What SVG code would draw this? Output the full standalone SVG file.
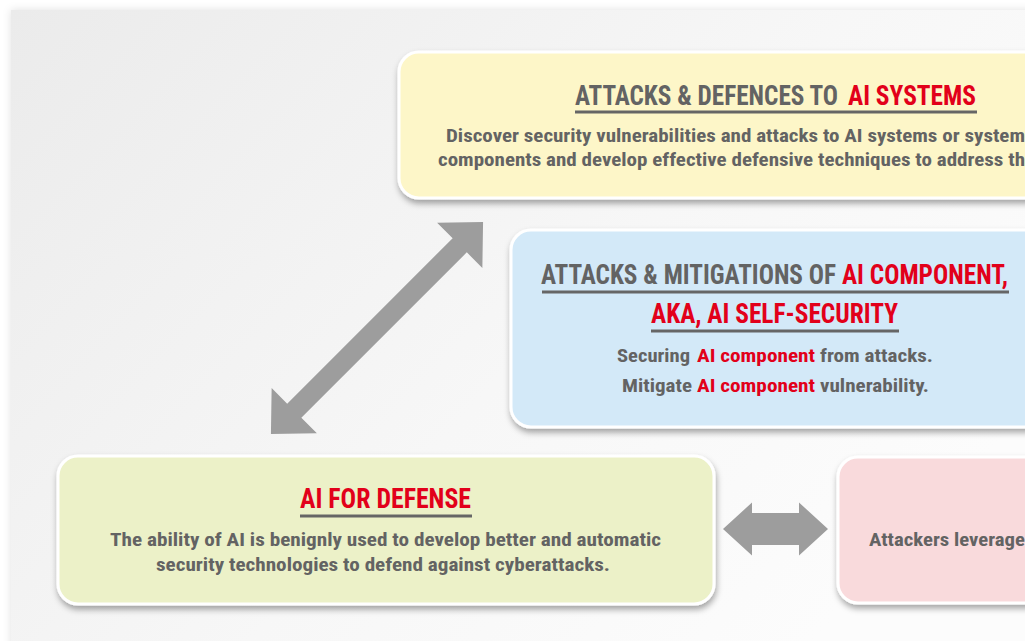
<svg xmlns="http://www.w3.org/2000/svg" width="1025" height="641" viewBox="0 0 1025 641">
<defs>
<linearGradient id="bg" x1="0" y1="0" x2="1" y2="0.6">
<stop offset="0" stop-color="#ebebeb"/>
<stop offset="0.6" stop-color="#f7f7f7"/>
<stop offset="1" stop-color="#fcfcfc"/>
</linearGradient>
<filter id="panelShadow" x="-5%" y="-5%" width="110%" height="110%">
<feDropShadow dx="0" dy="0" stdDeviation="4" flood-color="#000" flood-opacity="0.12"/>
</filter>
<filter id="boxShadow" x="-5%" y="-10%" width="110%" height="125%">
<feDropShadow dx="1" dy="4" stdDeviation="3" flood-color="#000" flood-opacity="0.35"/>
</filter>
</defs>
<style>
.box{stroke:#ffffff;stroke-width:3;filter:url(#boxShadow);}
.t{font-family:"Liberation Sans Narrow","Roboto Condensed","DejaVu Sans Condensed","Liberation Sans",sans-serif;font-weight:bold;fill:#636363;}
.title{font-size:27px;}
.body{font-size:19px;}
.red{fill:#e2001a;}
.ul{stroke:#666666;stroke-width:3;}
.arrow{fill:#9d9d9d;}
</style>
<rect x="0" y="0" width="1025" height="641" fill="#ffffff"/>
<rect x="11" y="10" width="1030" height="650" fill="url(#bg)" filter="url(#panelShadow)"/>

<g id="connectors">
<polygon class="arrow" transform="translate(377,328) rotate(-45)" points="-150,0 -117,-32 -117,-10 117,-10 117,-32 150,0 117,32 117,10 -117,10 -117,32"/>
<polygon class="arrow" points="723,529 752,502.5 752,513 799,513 799,502.5 828,529 799,555.5 799,545 752,545 752,555.5"/>
</g>

<g id="node-attacks-defences">
<rect class="box" x="399" y="52" width="660" height="146" rx="20" fill="#fdf6c8"/>
<text class="t title" x="575" y="105" textLength="263" lengthAdjust="spacingAndGlyphs">ATTACKS &amp; DEFENCES TO</text>
<text class="t title red" x="848" y="105" textLength="128" lengthAdjust="spacingAndGlyphs">AI SYSTEMS</text>
<line class="ul" x1="575" y1="112" x2="977" y2="112"/>
<text class="t body" x="446" y="142" textLength="579" lengthAdjust="spacingAndGlyphs">Discover security vulnerabilities and attacks to AI systems or system</text>
<text class="t body" x="438" y="166" textLength="587" lengthAdjust="spacingAndGlyphs">components and develop effective defensive techniques to address th</text>
</g>

<g id="node-ai-self-security">
<rect class="box" x="511" y="230" width="560" height="197" rx="20" fill="#d3e9f8"/>
<text class="t title" x="541" y="284" textLength="295" lengthAdjust="spacingAndGlyphs">ATTACKS &amp; MITIGATIONS OF</text>
<text class="t title red" x="842" y="284" textLength="166" lengthAdjust="spacingAndGlyphs">AI COMPONENT,</text>
<line class="ul" x1="542" y1="292" x2="1009" y2="292"/>
<text class="t title red" x="651" y="323" textLength="247" lengthAdjust="spacingAndGlyphs">AKA, AI SELF-SECURITY</text>
<line class="ul" x1="651" y1="331" x2="899" y2="331"/>
<text class="t body" x="617" y="362" textLength="73" lengthAdjust="spacingAndGlyphs">Securing</text>
<text class="t body red" x="697" y="362" textLength="118" lengthAdjust="spacingAndGlyphs">AI component</text>
<text class="t body" x="820" y="362" textLength="113" lengthAdjust="spacingAndGlyphs">from attacks.</text>
<text class="t body" x="622" y="392" textLength="70" lengthAdjust="spacingAndGlyphs">Mitigate</text>
<text class="t body red" x="697" y="392" textLength="118" lengthAdjust="spacingAndGlyphs">AI component</text>
<text class="t body" x="820" y="392" textLength="109" lengthAdjust="spacingAndGlyphs">vulnerability.</text>
</g>

<g id="node-ai-for-defense">
<rect class="box" x="58" y="456" width="656" height="148" rx="20" fill="#ecf1c8"/>
<text class="t title red" x="300" y="508" textLength="171" lengthAdjust="spacingAndGlyphs">AI FOR DEFENSE</text>
<line class="ul" x1="300" y1="516" x2="472" y2="516"/>
<text class="t body" x="110" y="546" textLength="551" lengthAdjust="spacingAndGlyphs">The ability of AI is benignly used to develop better and automatic</text>
<text class="t body" x="156" y="571" textLength="454" lengthAdjust="spacingAndGlyphs">security technologies to defend against cyberattacks.</text>
</g>

<g id="node-ai-for-offense">
<rect class="box" x="838" y="457" width="260" height="146" rx="20" fill="#f9dadc"/>
<text class="t body" x="869" y="546" textLength="156" lengthAdjust="spacingAndGlyphs">Attackers leverage</text>
</g>
</svg>
